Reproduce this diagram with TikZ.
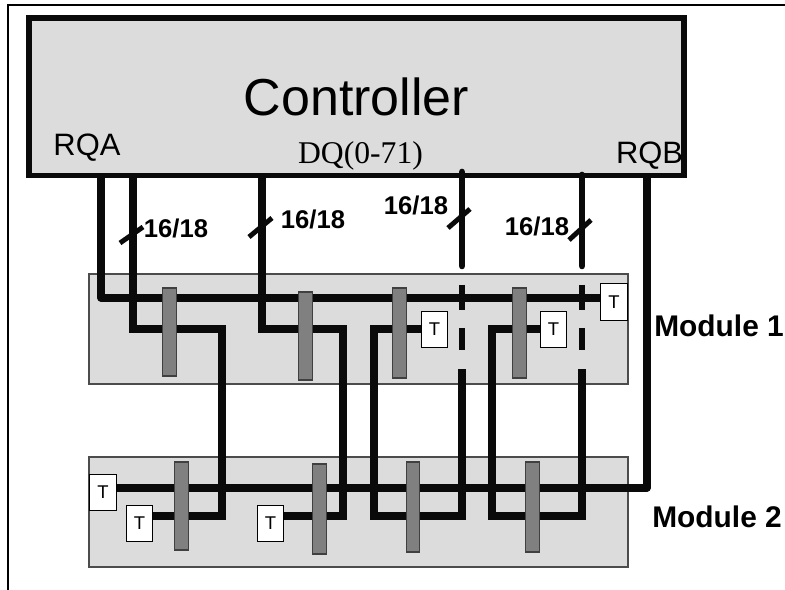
\documentclass[tikz,border=0pt]{standalone}
\usepackage{fontspec}
\setmainfont{Liberation Sans}
\newfontfamily\serifface{Liberation Serif}
\definecolor{boardgray}{RGB}{220,220,220}
\definecolor{chipgray}{RGB}{128,128,128}
\definecolor{wireblack}{RGB}{10,10,10}
\tikzset{
  wire/.style={line width=4pt,color=wireblack},
  stub/.style={line width=3.8pt,color=wireblack},
  tick/.style={line width=2.8pt,color=wireblack},
  board/.style={draw=black!70,line width=0.8pt,fill=boardgray,inner sep=0pt,minimum width=10.78cm,minimum height=2.2cm},
  chip/.style={draw=black!75,line width=0.8pt,fill=chipgray,inner sep=0pt,minimum width=0.27cm},
  term/.style={draw=black,line width=0.7pt,fill=white,inner sep=0pt,minimum width=0.53cm,minimum height=0.73cm,font=\fontsize{10.5}{12}\selectfont},
  width/.style={font=\fontsize{14.6}{16}\selectfont\bfseries,inner sep=0pt},
  modname/.style={font=\fontsize{17}{20}\selectfont\bfseries,inner sep=0pt,anchor=west},
}

\begin{document}
\begin{tikzpicture}[x=0.02cm,y=-0.02cm]
\useasboundingbox (0,0) rectangle (785,590);
% ---------- page frame ----------
\draw[line width=1.2pt] (8,590) -- (8,5) -- (785,5);
% ---------- controller and the two modules ----------
\node[draw=wireblack,line width=3.2pt,fill=boardgray,inner sep=0pt,minimum width=13.1cm,minimum height=3.15cm] (controller) at (356.5,96.75) {};
\node[board] (module1) at (358.5,329) {};
\node[board] (module2) at (358.5,512) {};
\node[font=\fontsize{29.6}{32}\selectfont,inner sep=0pt] (ctrltext) at (356.5,97) {Controller};
\node[font=\fontsize{17.6}{20}\selectfont,inner sep=0pt] (rqa) at (87,148) {RQA};
\node[font=\fontsize{17.6}{20}\selectfont,inner sep=0pt] (rqb) at (649.5,156) {RQB};
\node[font=\fontsize{18}{20}\selectfont\serifface,inner sep=0pt] (dq) at (360.5,156) {DQ(0-71)};
% ---------- bus levels ----------
\coordinate (hi) at (0,329);
\coordinate (lo) at (0,516);
\coordinate (rqaout) at (101,175);
\coordinate (rqbout) at (647,175);
\coordinate (dq1) at (133,175);
\coordinate (dq2) at (262,175);
\coordinate (dq3) at (462,172);
\coordinate (dq4) at (582,175);
% ---------- terminators ----------
\foreach \name/\x/\y in {ta/614/302,tb/434.5/329.5,tc/553.5/329.5,td/103/492.5,te/139.5/523.5,tf/270.5/523.5}
  \node[term] (\name) at (\x,\y) {T};
% ---------- address buses ----------
\draw[wire,line join=round] (rqaout) |- (ta.west |- 0,298);
\draw[wire,line join=round] (rqbout) |- (td.east |- 0,488);
% ---------- data lines ----------
\draw[wire] (dq1) |- (hi -| 222,0) -- (222,516) -- (te.east |- lo);
\draw[wire] (dq2) |- (hi -| 343,0) -- (343,516) -- (tf.east |- lo);
\draw[wire] (tb.west |- hi) -- (374,329) -- (374,516) -- (462,516) -- (462,369);
\draw[wire] (tc.west |- hi) -- (492,329) -- (492,516) -- (582,516) -- (582,369);
% ---------- dashed pieces where the lines pass module 1 ----------
\foreach \src/\x in {dq3/462,dq4/582} {
  \draw[stub,line cap=round] (\src) -- (\x,266);
  \draw[stub] (\x,285) -- (\x,310);
  \draw[stub] (\x,328) -- (\x,350);
}
% ---------- DRAM chips ----------
\foreach \name/\x/\y/\h in {ca/169.5/332/1.76,cb/305.5/336/1.76,cc/399.5/333/1.8,cd/519.5/333/1.8,%
                            ce/181.5/506/1.76,cf/319.5/509/1.8,cg/413/507/1.8,ch/532.5/507/1.8}
  \node[chip,minimum height=\h cm] (\name) at (\x,\y) {};
% ---------- width ticks and labels ----------
\foreach \name/\x/\y/\xa/\ya/\xb/\yb in {wa/176/228/120/243/143/227,wb/313/219/249/237/272/218,%
                                         wc/416/205/448/228/470/209,wd/537/226/569/240/591/220} {
  \node[width] (\name) at (\x,\y) {16/18};
  \draw[tick] (\xa,\ya) -- (\xb,\yb);
}
% ---------- module names ----------
\node[modname] (m1name) at (654,326) {Module 1};
\node[modname] (m2name) at (652,517) {Module 2};
\end{tikzpicture}
\end{document}
